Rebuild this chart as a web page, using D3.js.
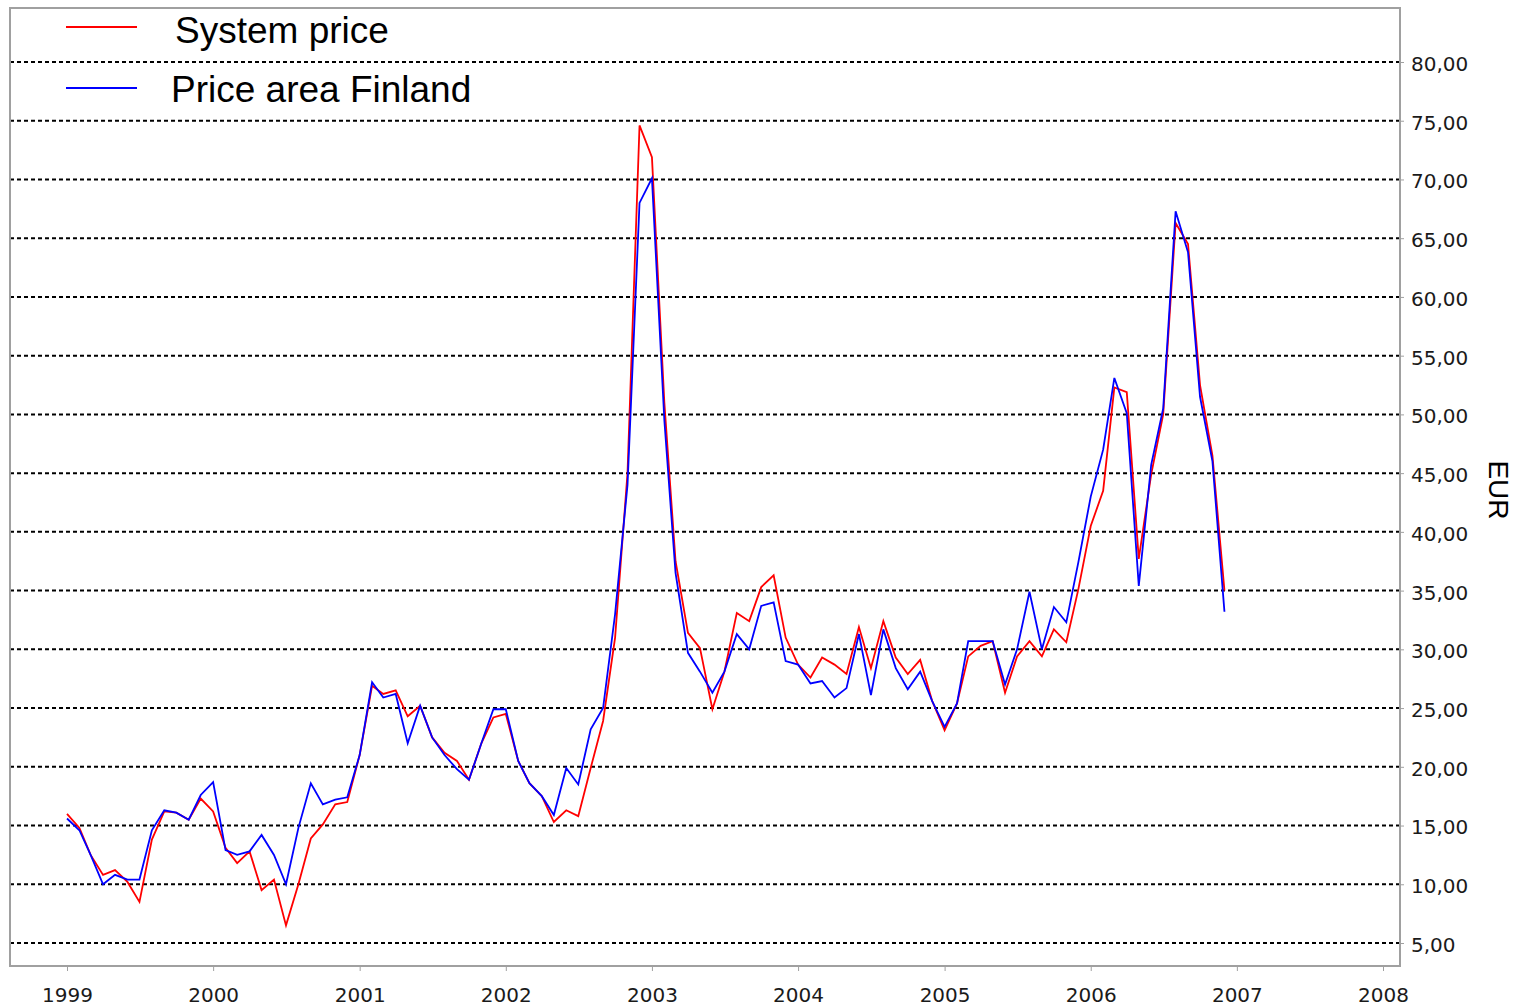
<!DOCTYPE html>
<html>
<head>
<meta charset="utf-8">
<script src="https://cdn.jsdelivr.net/npm/d3@7"></script>
<style>
  body { margin: 0; background: #fff; }
  .axis text { font-family: "DejaVu Sans", sans-serif; font-size: 20px; fill: #1a1a1a; }
  .legend-label { font-family: "Liberation Sans", Arial, sans-serif; font-size: 37px; fill: #000; }
  .y-title { font-family: "Liberation Sans", Arial, sans-serif; font-size: 28px; fill: #000; }
</style>
</head>
<body>
<svg id="chart"></svg>
<script>
// monthly averages, Jan 1999 - Dec 2006 (EUR/MWh)
const systemPrice = [
  16.0, 14.8, 12.5, 10.8, 11.2, 10.2, 8.5, 13.8, 16.2, 16.1, 15.5, 17.3,
  16.2, 13.1, 11.8, 12.8, 9.5, 10.4, 6.5, 10.0, 13.9, 15.1, 16.8, 17.0,
  21.0, 26.9, 26.2, 26.5, 24.3, 25.2, 22.5, 21.2, 20.5, 18.9, 22.0, 24.2,
  24.5, 20.5, 18.6, 17.5, 15.3, 16.3, 15.8, 19.9, 23.9, 31.0, 45.0, 74.6,
  71.9, 51.0, 37.5, 31.4, 30.1, 24.9, 28.1, 33.1, 32.4, 35.3, 36.3, 31.0,
  28.7, 27.6, 29.3, 28.7, 27.9, 31.9, 28.4, 32.4, 29.3, 27.9, 29.1, 25.6,
  23.1, 25.4, 29.4, 30.3, 30.7, 26.3, 29.4, 30.7, 29.4, 31.7, 30.6, 35.1,
  40.5, 43.5, 52.3, 51.9, 37.7, 44.9, 50.0, 66.3, 64.5, 52.5, 46.5, 35.0
];
const finlandPrice = [
  15.6, 14.6, 12.5, 10.0, 10.8, 10.4, 10.4, 14.6, 16.3, 16.1, 15.5, 17.6,
  18.7, 12.9, 12.5, 12.8, 14.2, 12.5, 10.0, 14.8, 18.6, 16.8, 17.2, 17.4,
  21.0, 27.2, 25.9, 26.2, 22.0, 25.2, 22.5, 21.0, 19.8, 18.9, 22.0, 24.9,
  24.9, 20.5, 18.6, 17.5, 15.9, 19.9, 18.5, 23.2, 25.0, 33.0, 44.0, 68.0,
  70.1, 49.5, 36.5, 29.7, 28.1, 26.3, 28.1, 31.3, 30.0, 33.7, 34.0, 29.0,
  28.7, 27.1, 27.3, 25.9, 26.7, 31.3, 26.1, 31.7, 28.4, 26.6, 28.1, 25.6,
  23.4, 25.4, 30.7, 30.7, 30.7, 27.0, 30.0, 34.9, 30.0, 33.6, 32.3, 37.4,
  43.0, 47.0, 53.1, 50.1, 35.4, 45.7, 50.5, 67.3, 63.8, 51.5, 46.0, 33.2
];
const yearTicks = [1999, 2000, 2001, 2002, 2003, 2004, 2005, 2006, 2007, 2008];
const yTicks = d3.range(5, 85, 5);
const seriesNames = ["System price", "Price area Finland"];
const seriesColors = ["#ff0000", "#0000ff"];

const width = 1517, height = 1006;
const frame = {left: 10, top: 8, right: 1400, bottom: 966};

const svg = d3.select('#chart')
    .attr('width', width)
    .attr('height', height);

svg.append('rect')
    .attr('width', width).attr('height', height)
    .attr('fill', '#fff');

// scales
const x = d3.scaleTime()
    .domain([new Date(1999, 0, 1), new Date(2008, 0, 1)])
    .range([67, 1383]);
const y = d3.scaleLinear()
    .domain([5, 80])
    .range([943, 62]);

const months = systemPrice.map((d, i) => new Date(1999, i, 1));

// dotted gridlines
svg.append('g')
  .selectAll('line')
  .data(yTicks)
  .join('line')
    .attr('x1', frame.left)
    .attr('x2', frame.right)
    .attr('y1', d => y(d))
    .attr('y2', d => y(d))
    .attr('stroke', '#000')
    .attr('stroke-width', 2)
    .attr('stroke-dasharray', '4,3');

// frame
svg.append('rect')
    .attr('x', frame.left)
    .attr('y', frame.top)
    .attr('width', frame.right - frame.left)
    .attr('height', frame.bottom - frame.top)
    .attr('fill', 'none')
    .attr('stroke', '#a0a0a0')
    .attr('stroke-width', 2);

// right y axis
const yAxis = d3.axisRight(y)
    .tickValues(yTicks)
    .tickSize(4)
    .tickPadding(7)
    .tickFormat(d => d3.format('.2f')(d).replace('.', ','));
const yAxisG = svg.append('g')
    .attr('class', 'axis')
    .attr('transform', `translate(${frame.right},2)`)
    .call(yAxis);
yAxisG.select('.domain').remove();
yAxisG.selectAll('.tick line').attr('stroke', '#a0a0a0').attr('transform', 'translate(0,-2)');

// bottom x axis
const xAxis = d3.axisBottom(x)
    .tickValues(yearTicks.map(yr => new Date(yr, 0, 1)))
    .tickSize(5)
    .tickPadding(17)
    .tickFormat(d3.timeFormat('%Y'));
const xAxisG = svg.append('g')
    .attr('class', 'axis')
    .attr('transform', `translate(0,${frame.bottom})`)
    .call(xAxis);
xAxisG.select('.domain').remove();
xAxisG.selectAll('.tick line').attr('stroke', '#a0a0a0');

svg.append('text')
    .attr('class', 'y-title')
    .attr('transform', 'translate(1489,490) rotate(90)')
    .attr('text-anchor', 'middle')
    .text('EUR');

// lines
const line = d3.line()
    .x((d, i) => x(months[i]))
    .y(d => y(d));

[systemPrice, finlandPrice].forEach((s, k) => {
  svg.append('path')
      .datum(s)
      .attr('fill', 'none')
      .attr('stroke', seriesColors[k])
      .attr('stroke-width', 1.8)
      .attr('stroke-linejoin', 'miter')
      .attr('d', line);
});

// legend
const legendRows = [{y: 27, tx: 175, ty: 43}, {y: 88, tx: 171, ty: 102}];
seriesNames.forEach((name, k) => {
  svg.append('line')
      .attr('x1', 66).attr('x2', 137)
      .attr('y1', legendRows[k].y).attr('y2', legendRows[k].y)
      .attr('stroke', seriesColors[k])
      .attr('stroke-width', 2);
  svg.append('text')
      .attr('class', 'legend-label')
      .attr('x', legendRows[k].tx)
      .attr('y', legendRows[k].ty)
      .text(name);
});
</script>
</body>
</html>
